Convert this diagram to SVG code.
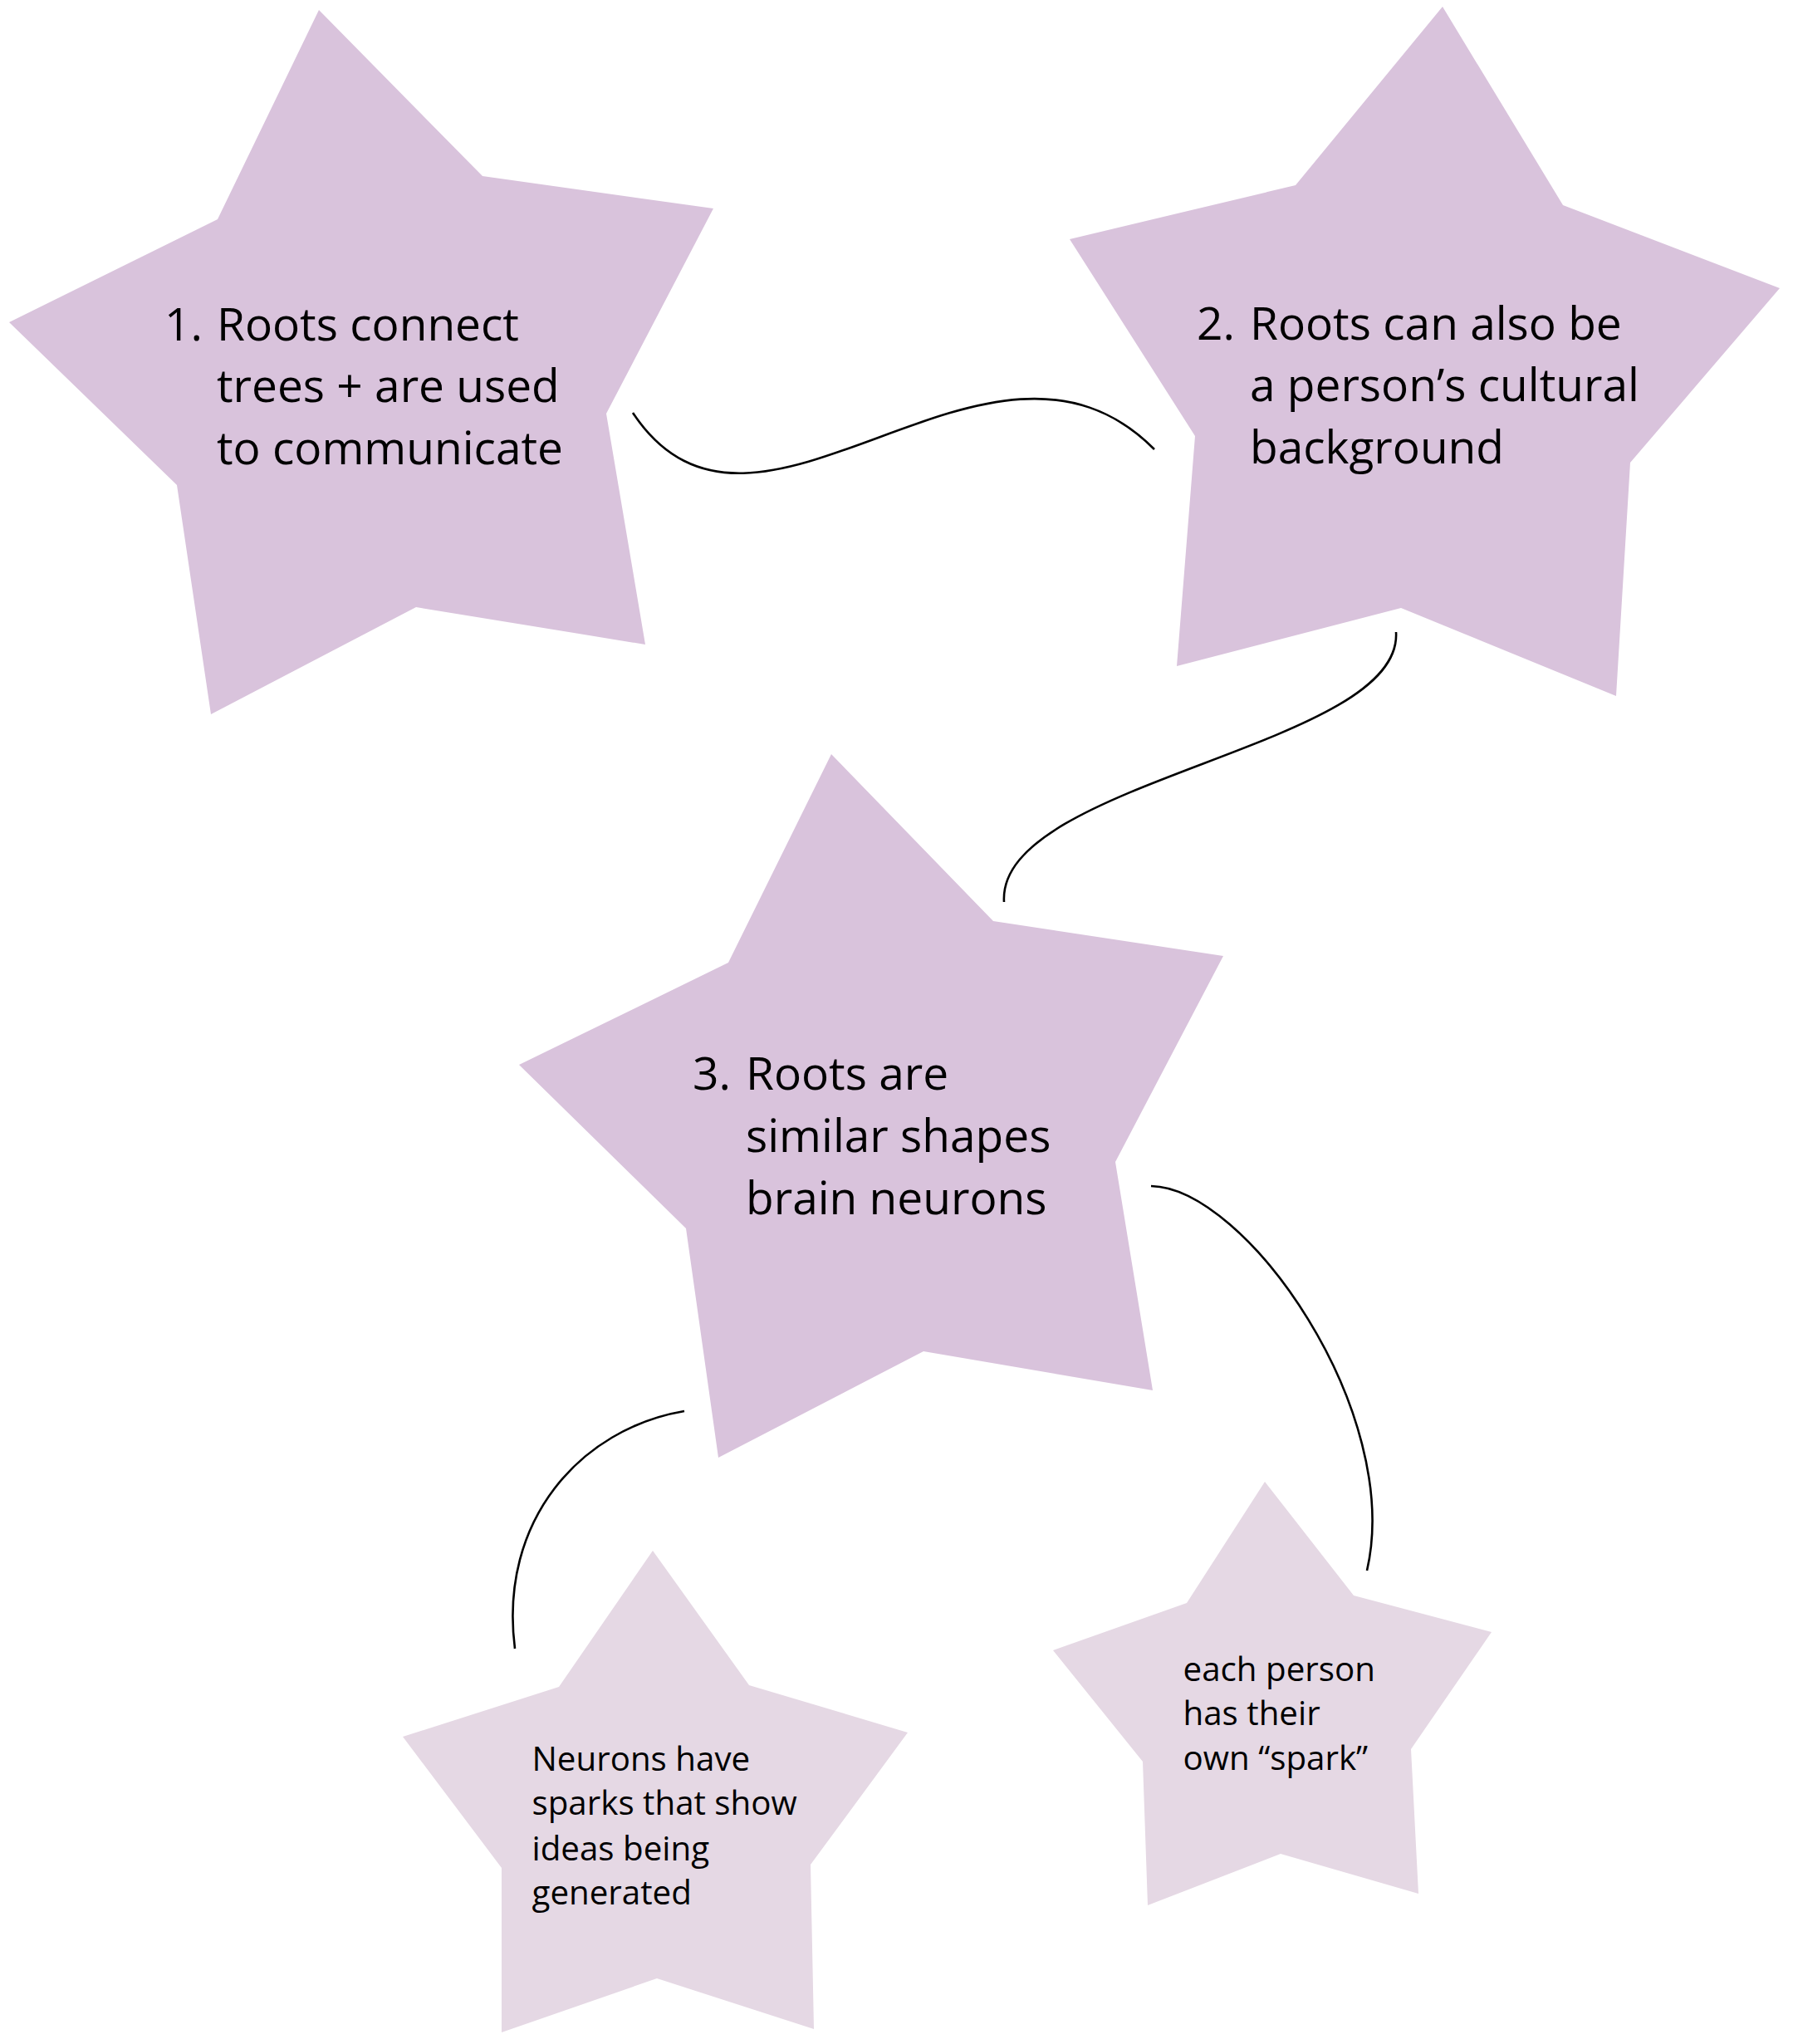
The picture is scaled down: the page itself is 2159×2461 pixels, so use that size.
<svg xmlns="http://www.w3.org/2000/svg" width="2159" height="2461" viewBox="0 0 2159 2461">
<style>
.big{fill:#D9C3DC}
.small{fill:#E5D8E4}
.t1{font-family:"Open Sans","Noto Sans",sans-serif;font-size:55px;fill:#000}
.t2{font-family:"Open Sans","Noto Sans",sans-serif;font-size:40.3px;fill:#000}
.conn{fill:none;stroke:#000;stroke-width:2.6}
</style>
<rect width="2159" height="2461" fill="#fff"/>
<g id="connectors">
<path class="conn" d="M762,497 C910,720 1190,340 1390,541"/>
<path class="conn" d="M1681,761 C1690,900 1200,940 1209,1086"/>
<path class="conn" d="M1386,1428 C1500,1430 1690,1700 1646,1891"/>
<path class="conn" d="M824,1699 C700,1720 600,1830 620,1985"/>
</g>
<g id="node1">
<polygon class="big" points="384,12 581,212 859,251 730,498 777,776 501,731 254,860 213,584 11,388 262,264"/>
<text class="t1" x="198" y="410">1.</text>
<text class="t1" x="261" y="410">Roots connect</text>
<text class="t1" x="261" y="484">trees + are used</text>
<text class="t1" x="261" y="559">to communicate</text>
</g>
<g id="node2">
<polygon class="big" points="1737,8 1882,247 2143,347 1963,557 1946,838 1687,732 1417,802 1439,525 1288,288 1560,223"/>
<text class="t1" x="1441" y="409">2.</text>
<text class="t1" x="1505" y="409">Roots can also be</text>
<text class="t1" x="1505" y="483">a person’s cultural</text>
<text class="t1" x="1505" y="558">background</text>
</g>
<g id="node3">
<polygon class="big" points="1001,908 1196,1109 1473,1151 1343,1399 1388,1674 1112,1627 865,1755 826,1479 625,1282 877,1159"/>
<text class="t1" x="834" y="1312">3.</text>
<text class="t1" x="898" y="1312">Roots are</text>
<text class="t1" x="898" y="1387">similar shapes</text>
<text class="t1" x="898" y="1462">brain neurons</text>
</g>
<g id="node4">
<polygon class="small" points="786,1867 902,2029 1093,2086 976,2245 980,2443 791,2382 604,2447 604,2249 485,2091 673,2031"/>
<text class="t2" x="640.5" y="2132">Neurons have</text>
<text class="t2" x="640.5" y="2185">sparks that show</text>
<text class="t2" x="640.5" y="2240">ideas being</text>
<text class="t2" x="640.5" y="2293">generated</text>
</g>
<g id="node5">
<polygon class="small" points="1523,1784 1630,1921 1796,1965 1699,2106 1708,2280 1542,2232 1382,2294 1376,2121 1268,1987 1429,1930"/>
<text class="t2" x="1424.5" y="2024">each person</text>
<text class="t2" x="1424.5" y="2077">has their</text>
<text class="t2" x="1424.5" y="2131">own “spark”</text>
</g>
</svg>
